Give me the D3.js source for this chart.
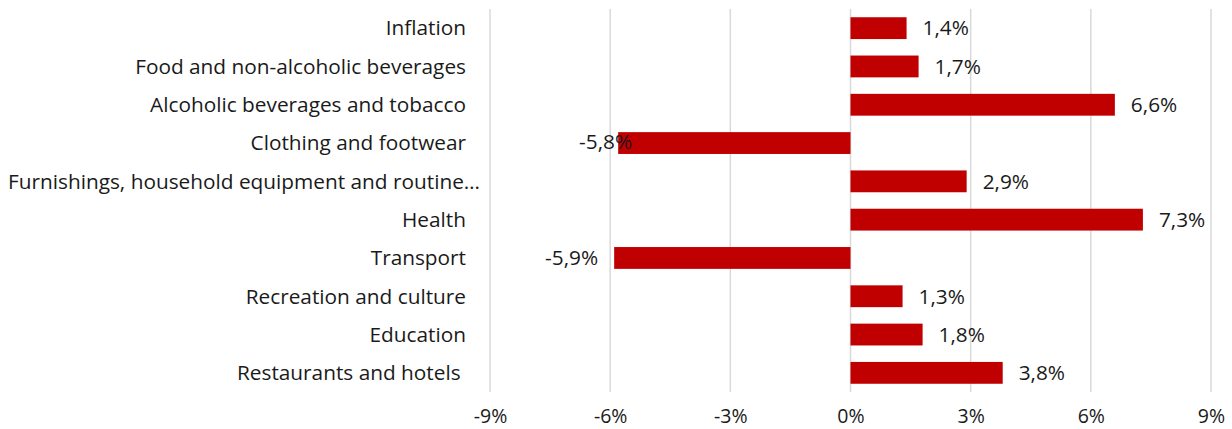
<!DOCTYPE html>
<html>
<head>
<meta charset="utf-8">
<script src="https://cdn.jsdelivr.net/npm/d3@7"></script>
<style>
  html, body { margin: 0; padding: 0; background: #fff; }
  svg { display: block; font-family: "Open Sans", Lato, sans-serif; }
</style>
</head>
<body>
<svg id="chart" width="1232" height="429"></svg>
<script>
// Year-on-year price change by consumption category
const categories = [
  "Inflation",
  "Food and non-alcoholic beverages",
  "Alcoholic beverages and tobacco",
  "Clothing and footwear",
  "Furnishings, household equipment and routine…",
  "Health",
  "Transport",
  "Recreation and culture",
  "Education",
  "Restaurants and hotels\u00a0"
];
const changes = [1.4, 1.7, 6.6, -5.8, 2.9, 7.3, -5.9, 1.3, 1.8, 3.8];
const tickValues = [-9, -6, -3, 0, 3, 6, 9];
const tickLabels = ["-9%", "-6%", "-3%", "0%", "3%", "6%", "9%"];

const svg = d3.select("#chart");
const plot = { left: 490, right: 1211, top: 9, bottom: 392 };
const fontSize = 20.8;
const tickFontSize = 19.5;
const fontFamily = "'Open Sans', Lato, sans-serif";
const ink = "#1a1a1a";

const x = d3.scaleLinear().domain([-9, 9]).range([plot.left, plot.right]);
const y = d3.scaleBand().domain(categories).range([plot.top, plot.bottom]).paddingInner(0.43).paddingOuter(0.215);

const fmt = v => d3.format(".1f")(v).replace("\u2212", "-").replace(".", ",") + "%";

// vertical gridlines
svg.append("g").selectAll("line").data(tickValues).join("line")
  .attr("x1", d => x(d)).attr("x2", d => x(d))
  .attr("y1", plot.top).attr("y2", plot.bottom)
  .attr("stroke", "#d9d9d9").attr("stroke-width", 1.5);

// bottom axis labels, baseline kept just above the lower edge
const xAxis = d3.axisBottom(x).tickValues(tickValues)
  .tickFormat((d, i) => tickLabels[i]).tickSize(0).tickPadding(0);
const gx = svg.append("g").attr("transform", `translate(0, 423)`).call(xAxis);
gx.select(".domain").remove();
gx.selectAll("text").attr("font-size", tickFontSize).attr("fill", ink)
  .attr("font-family", fontFamily).attr("y", 0).attr("dy", 0);

// bars
svg.append("g").selectAll("rect").data(categories).join("rect")
  .attr("x", (d, i) => Math.min(x(0), x(changes[i])))
  .attr("width", (d, i) => Math.abs(x(changes[i]) - x(0)))
  .attr("y", d => y(d))
  .attr("height", y.bandwidth())
  .attr("fill", "#c00000");

// category labels, right aligned against the plot; long labels start at the left margin
const catLabels = svg.append("g").selectAll("text").data(categories).join("text")
  .attr("x", 466)
  .attr("y", d => y(d) + y.bandwidth() / 2)
  .attr("dy", "0.35em")
  .attr("text-anchor", "end")
  .attr("font-size", fontSize)
  .attr("fill", ink)
  .text(d => d);
catLabels.each(function () {
  const w = this.getComputedTextLength();
  if (466 - w < 8) d3.select(this).attr("text-anchor", "start").attr("x", 8);
});

// value labels beside each bar
const labelNudge = { "Clothing and footwear": 30 };
svg.append("g").selectAll("text").data(categories).join("text")
  .attr("x", (d, i) => {
    const v = changes[i];
    return v >= 0 ? x(v) + 16 : x(v) - 16 + (labelNudge[d] || 0);
  })
  .attr("y", (d, i) => y(d) + y.bandwidth() / 2 - (labelNudge[d] ? 1.5 : 0))
  .attr("dy", "0.35em")
  .attr("text-anchor", (d, i) => changes[i] >= 0 ? "start" : "end")
  .attr("font-size", fontSize)
  .attr("fill", ink)
  .text((d, i) => fmt(changes[i]));
</script>
</body>
</html>
